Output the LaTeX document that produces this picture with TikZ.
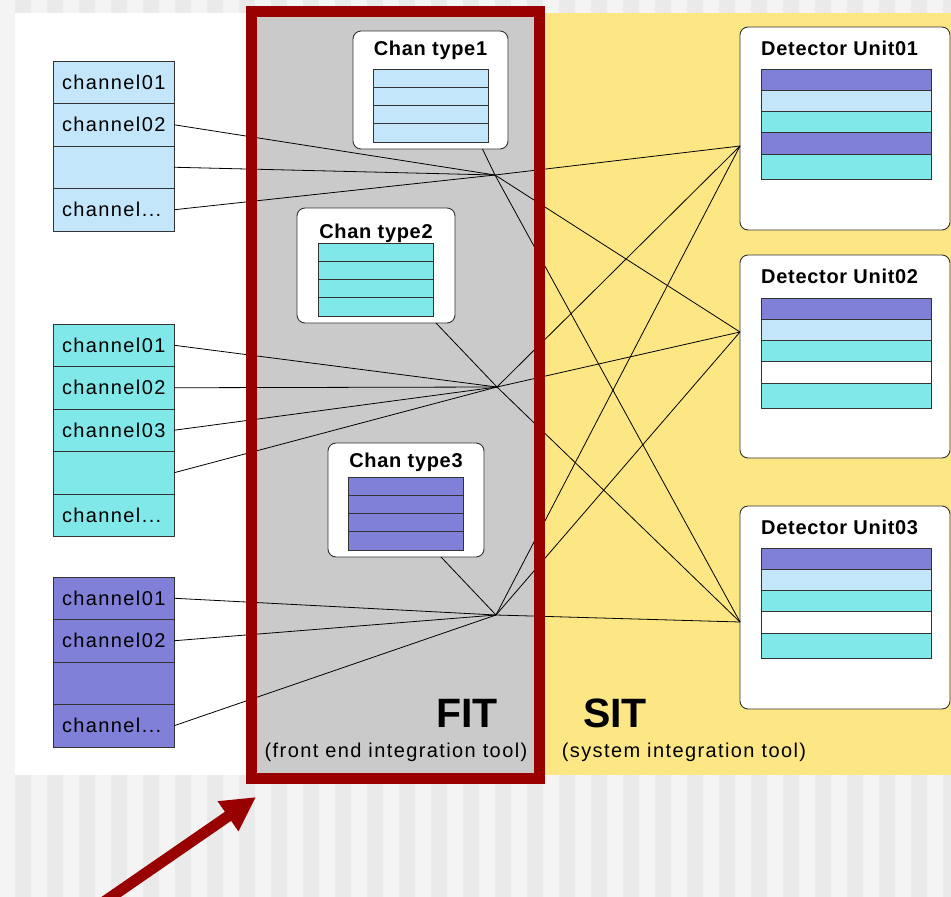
\documentclass[tikz,border=0pt]{standalone}
\usepackage{fontspec}
\setmainfont{Liberation Sans}
\newfontfamily\chfont[LetterSpace=7]{Liberation Sans}
\newfontfamily\ttlfont[LetterSpace=3.5]{Liberation Sans}
\usetikzlibrary{positioning,arrows.meta}

\definecolor{chblue}{HTML}{C4E6FA}
\definecolor{chcyan}{HTML}{80E8E8}
\definecolor{chpurple}{HTML}{8080D8}
\definecolor{sityellow}{HTML}{FDE784}
\definecolor{fitgray}{HTML}{CACACA}
\definecolor{fitred}{HTML}{990000}
\definecolor{stripeA}{HTML}{EAEAEA}
\definecolor{stripeB}{HTML}{F4F4F4}
\definecolor{edgegray}{HTML}{333333}

\tikzset{
  chrow/.style={draw=edgegray, line width=0.9pt, minimum height=42.5pt,
    text width=103pt, inner xsep=9pt, inner ysep=0pt, outer sep=0pt, align=left,
    font={\chfont\fontsize{20}{24}\selectfont}},
  unitbox/.style={draw=edgegray, line width=0.9pt, fill=white,
    rounded corners=8pt, inner sep=0pt, outer sep=0pt},
  boxtitle/.style={inner sep=0pt, font={\ttlfont\bfseries\fontsize{20}{24}\selectfont}},
  slot/.style={draw=edgegray, line width=0.9pt, minimum width=115pt,
    minimum height=18.25pt, inner sep=0pt, outer sep=0pt},
  dslot/.style={draw=edgegray, line width=0.9pt, minimum width=170pt,
    minimum height=21.25pt, inner sep=0pt, outer sep=0pt},
  bigtag/.style={anchor=base, inner sep=0pt, font={\bfseries\fontsize{41}{44}\selectfont}},
  subtag/.style={anchor=base, inner sep=0pt, font={\chfont\fontsize{20}{24}\selectfont}},
  wire/.style={line width=0.8pt},
}

\begin{document}
\begin{tikzpicture}[x=1pt,y=-1pt]
  \useasboundingbox (0,0) rectangle (951,897);
  \clip (0,0) rectangle (951,897);

  % backdrop
  \fill[stripeB] (0,0) rectangle (951,897);
  \foreach \k in {0,...,29}
    \fill[stripeA] ({15+32*\k},0) rectangle ({31+32*\k},897);
  \fill[white] (15,13) rectangle (252,775);
  \fill[sityellow] (539,13) rectangle (951,775);
  \fill[fitgray] (251,11) rectangle (540,778);

  % front end channels
  \node[chrow, fill=chblue, anchor=north west] (ga1) at (53,61) {channel01};
  \node[chrow, fill=chblue, below=0pt of ga1] (ga2) {channel02};
  \node[chrow, fill=chblue, below=0pt of ga2] (ga3) {};
  \node[chrow, fill=chblue, below=0pt of ga3] (ga4) {channel...};

  \node[chrow, fill=chcyan, anchor=north west] (gb1) at (53,324) {channel01};
  \node[chrow, fill=chcyan, below=0pt of gb1] (gb2) {channel02};
  \node[chrow, fill=chcyan, below=0pt of gb2] (gb3) {channel03};
  \node[chrow, fill=chcyan, below=0pt of gb3] (gb4) {};
  \node[chrow, fill=chcyan, below=0pt of gb4] (gb5) {channel...};

  \node[chrow, fill=chpurple, anchor=north west] (gc1) at (53,577) {channel01};
  \node[chrow, fill=chpurple, below=0pt of gc1] (gc2) {channel02};
  \node[chrow, fill=chpurple, below=0pt of gc2] (gc3) {};
  \node[chrow, fill=chpurple, below=0pt of gc3] (gc4) {channel...};

  % channel types
  \node[unitbox, anchor=north west, minimum width=155pt, minimum height=118pt] (ct1) at (353,31) {};
  \node[boxtitle, anchor=base] (ct1t) at ([yshift=-24pt]ct1.north) {Chan type1};
  \node[slot, fill=chblue, anchor=north] (ct1a) at ([yshift=-38pt]ct1.north) {};
  \node[slot, fill=chblue, below=0pt of ct1a] (ct1b) {};
  \node[slot, fill=chblue, below=0pt of ct1b] (ct1c) {};
  \node[slot, fill=chblue, below=0pt of ct1c] (ct1d) {};

  \node[unitbox, anchor=north west, minimum width=158pt, minimum height=115pt] (ct2) at (297,208) {};
  \node[boxtitle, anchor=base] (ct2t) at ([yshift=-30pt]ct2.north) {Chan type2};
  \node[slot, fill=chcyan, anchor=north] (ct2a) at ([yshift=-35pt]ct2.north) {};
  \node[slot, fill=chcyan, below=0pt of ct2a] (ct2b) {};
  \node[slot, fill=chcyan, below=0pt of ct2b] (ct2c) {};
  \node[slot, fill=chcyan, below=0pt of ct2c] (ct2d) {};

  \node[unitbox, anchor=north west, minimum width=156pt, minimum height=114pt] (ct3) at (328,443) {};
  \node[boxtitle, anchor=base] (ct3t) at ([yshift=-24pt]ct3.north) {Chan type3};
  \node[slot, fill=chpurple, anchor=north] (ct3a) at ([yshift=-34pt]ct3.north) {};
  \node[slot, fill=chpurple, below=0pt of ct3a] (ct3b) {};
  \node[slot, fill=chpurple, below=0pt of ct3b] (ct3c) {};
  \node[slot, fill=chpurple, below=0pt of ct3c] (ct3d) {};

  % detector units
  \foreach \u/\top in {1/27, 2/255, 3/506} {
    \node[unitbox, anchor=north west, minimum width=210pt, minimum height=203pt] (du\u) at (740,\top) {};
    \node[boxtitle, anchor=base west] (du\u t) at ([xshift=21pt,yshift=-28pt]du\u.north west) {Detector Unit0\u};
  }
  \node[dslot, fill=chpurple, anchor=north] (du1a) at (846,69) {};
  \node[dslot, fill=chblue, below=0pt of du1a] (du1b) {};
  \node[dslot, fill=chcyan, below=0pt of du1b] (du1c) {};
  \node[dslot, fill=chpurple, below=0pt of du1c] (du1d) {};
  \node[dslot, fill=chcyan, minimum height=25pt, below=0pt of du1d] (du1e) {};

  \node[dslot, fill=chpurple, anchor=north] (du2a) at (846,298) {};
  \node[dslot, fill=chblue, below=0pt of du2a] (du2b) {};
  \node[dslot, fill=chcyan, below=0pt of du2b] (du2c) {};
  \node[dslot, fill=white, below=0pt of du2c] (du2d) {};
  \node[dslot, fill=chcyan, minimum height=25pt, below=0pt of du2d] (du2e) {};

  \node[dslot, fill=chpurple, anchor=north] (du3a) at (846,548) {};
  \node[dslot, fill=chblue, below=0pt of du3a] (du3b) {};
  \node[dslot, fill=chcyan, below=0pt of du3b] (du3c) {};
  \node[dslot, fill=white, below=0pt of du3c] (du3d) {};
  \node[dslot, fill=chcyan, minimum height=25pt, below=0pt of du3d] (du3e) {};

  % where the wires meet
  \coordinate (hub1) at (495,175);
  \coordinate (hub2) at (497,387);
  \coordinate (hub3) at (496,615);
  \coordinate (du1in) at (740,146);
  \coordinate (du2in) at (740,332);
  \coordinate (du3in) at (740,622);

  \path[wire]
    (hub1) edge (ga2.east) edge (ga3.east) edge (ga4.east)
           edge ([xshift=52pt]ct1.south)
           edge (du1in) edge (du2in) edge (du3in)
    (hub2) edge (gb1.east) edge (gb2.east) edge (gb3.east) edge (gb4.east)
           edge ([xshift=60pt]ct2.south)
           edge (du1in) edge (du2in) edge (du3in)
    (hub3) edge (gc1.east) edge (gc2.east) edge (gc4.east)
           edge ([xshift=35pt]ct3.south)
           edge (du1in) edge (du2in) edge (du3in);

  % FIT frame
  \draw[fitred, line width=11pt] (251.5,11) rectangle (539.5,778.5);

  \node[bigtag] (fit) at (467,727) {FIT};
  \node[bigtag] (sit) at (615,727) {SIT};
  \node[subtag] (fitsub) at (396,757) {(front end integration tool)};
  \node[subtag] (sitsub) at (684,757) {(system integration tool)};

  % pointer
  \coordinate (ptrtail) at (98,906);
  \coordinate (ptrtip) at (256,797);
  \draw[fitred, line width=11pt, -{Triangle[length=34pt,width=34pt]}] (ptrtail) -- (ptrtip);
\end{tikzpicture}
\end{document}
